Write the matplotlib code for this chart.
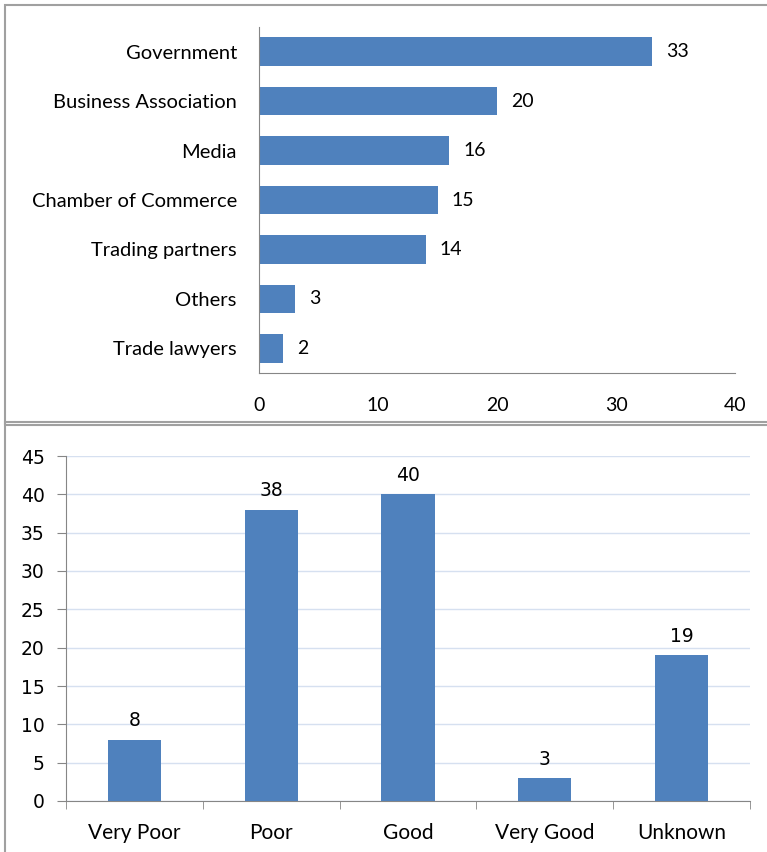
import matplotlib.pyplot as plt
from matplotlib.patches import Rectangle
import numpy as np

# top chart data
sources = ["Government", "Business Association", "Media", "Chamber of Commerce",
           "Trading partners", "Others", "Trade lawyers"]
sourceCounts = [33, 20, 16, 15, 14, 3, 2]

# bottom chart data
ratings = ["Very Poor", "Poor", "Good", "Very Good", "Unknown"]
ratingCounts = [8, 38, 40, 3, 19]

barColor = '#4f81bd'
axisColor = '#868686'
plt.rcParams['font.family'] = ['Lato', 'DejaVu Sans']

fig = plt.figure(figsize=(7.67, 8.52), dpi=100)
W, H = 767.0, 852.0

# panel frames
fig.patches.append(Rectangle((5/W, 1-425/H), 770/W, 420/H, transform=fig.transFigure,
                             fill=False, edgecolor='#a0a0a0', linewidth=1.5))
fig.patches.append(Rectangle((5/W, -10/H), 770/W, (440)/H, transform=fig.transFigure,
                             fill=False, edgecolor='#a0a0a0', linewidth=1.5))

# top: horizontal bars
ax1 = fig.add_axes([259/W, 1-373/H, (735-259)/W, (373-27)/H])
y = np.arange(len(sources))
ax1.barh(y, sourceCounts, height=0.58, color=barColor)
for i, v in enumerate(sourceCounts):
    ax1.text(v + 1.2, i, str(v), va='center', ha='left', fontsize=14)
ax1.set_yticks(y)
ax1.set_yticklabels(sources, fontsize=14.5)
ax1.set_ylim(len(sources) - 0.5, -0.5)
ax1.set_xlim(0, 40)
ax1.set_xticks(np.arange(0, 41, 10))
ax1.tick_params(axis='x', length=0, pad=17, labelsize=14)
ax1.tick_params(axis='y', length=0, pad=16)
for s in ['top', 'right']:
    ax1.spines[s].set_visible(False)
for s in ['left', 'bottom']:
    ax1.spines[s].set_color(axisColor)

# bottom: vertical bars
ax2 = fig.add_axes([66/W, 1-801/H, (750-66)/W, (801-456)/H])
x = np.arange(len(ratings))
ax2.bar(x, ratingCounts, width=0.39, color=barColor, zorder=3)
for i, v in enumerate(ratingCounts):
    ax2.text(i, v + 1.2, str(v), ha='center', va='bottom', fontsize=13.5, family='DejaVu Sans')
ax2.set_xlim(-0.5, len(ratings) - 0.5)
ax2.set_ylim(0, 45)
ax2.set_yticks(np.arange(0, 46, 5))
ax2.set_yticklabels([str(t) for t in range(0, 46, 5)], fontsize=13.5, family='DejaVu Sans')
ax2.set_xticks(x)
ax2.set_xticklabels(ratings, fontsize=15)
ax2.set_xticks(np.arange(-0.5, len(ratings), 1), minor=True)
ax2.tick_params(axis='x', which='major', length=0, pad=16)
ax2.tick_params(axis='x', which='minor', length=6, color=axisColor, direction='out')
ax2.tick_params(axis='y', length=6.5, color=axisColor, direction='out', pad=9)
ax2.grid(axis='y', color='#d6e0f0', linewidth=1, zorder=0)
ax2.set_axisbelow(True)
for s in ['top', 'right']:
    ax2.spines[s].set_visible(False)
for s in ['left', 'bottom']:
    ax2.spines[s].set_color(axisColor)

plt.savefig("out.png", dpi=100)
